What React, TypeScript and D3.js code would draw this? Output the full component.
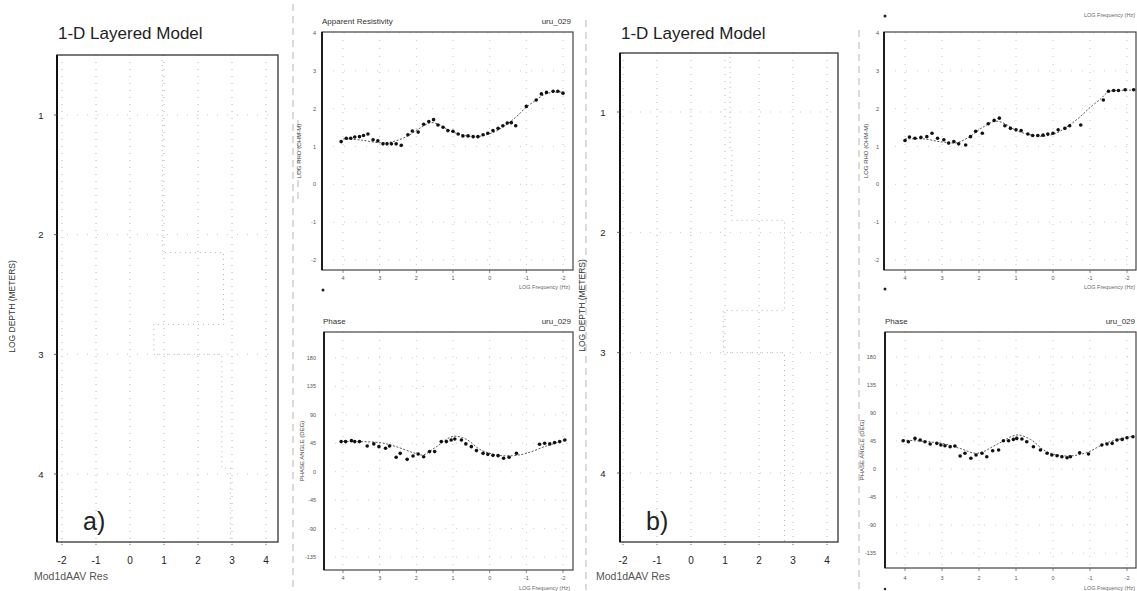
import React from 'react';
import * as d3 from 'd3';

// ---------- tick labels ----------
const MODEL_RES_TICKS = [-2, -1, 0, 1, 2, 3, 4];
const MODEL_DEPTH_TICKS = [1, 2, 3, 4];
const FREQ_TICKS = [4, 3, 2, 1, 0, -1, -2];
const RHO_TICKS = [4, 3, 2, 1, 0, -1, -2];
const PHASE_TICKS = [180, 135, 90, 45, 0, -45, -90, -135];

// ---------- site a : apparent resistivity ----------
const RHO_FREQ_A = [4.05, 3.91, 3.79, 3.68, 3.55, 3.44, 3.32, 3.18, 3.05, 2.91, 2.8, 2.68, 2.55, 2.41, 2.23, 2.11, 1.95, 1.8, 1.66, 1.53, 1.41, 1.27, 1.14, 1.0, 0.86, 0.73, 0.59, 0.45, 0.32, 0.18, 0.05, -0.09, -0.23, -0.36, -0.48, -0.59, -0.71, -1.0, -1.27, -1.41, -1.55, -1.73, -1.86, -2.0];
const RHO_A = [1.13, 1.22, 1.22, 1.25, 1.26, 1.29, 1.33, 1.18, 1.15, 1.07, 1.07, 1.07, 1.07, 1.03, 1.31, 1.41, 1.38, 1.59, 1.66, 1.71, 1.57, 1.51, 1.42, 1.4, 1.33, 1.28, 1.28, 1.26, 1.26, 1.31, 1.35, 1.42, 1.48, 1.55, 1.62, 1.63, 1.55, 2.06, 2.23, 2.39, 2.43, 2.46, 2.46, 2.41];
const RHO_MODEL_FREQ_A = [4.0, 3.5, 3.0, 2.64, 2.27, 1.91, 1.59, 1.36, 1.09, 0.77, 0.36, -0.09, -0.45, -0.73, -1.0, -1.27, -1.5, -1.73, -2.0];
const RHO_MODEL_A = [1.2, 1.17, 1.1, 1.13, 1.26, 1.48, 1.63, 1.57, 1.42, 1.31, 1.26, 1.37, 1.57, 1.79, 2.04, 2.23, 2.38, 2.43, 2.44];

// ---------- site a : phase ----------
const PH_FREQ_A = [4.05, 3.93, 3.77, 3.68, 3.55, 3.34, 3.16, 3.02, 2.84, 2.73, 2.55, 2.44, 2.25, 2.09, 1.95, 1.8, 1.64, 1.5, 1.32, 1.18, 1.05, 0.95, 0.77, 0.65, 0.5, 0.36, 0.18, 0.05, -0.09, -0.23, -0.38, -0.53, -0.73, -1.36, -1.5, -1.64, -1.77, -1.91, -2.05];
const PH_A = [47.7, 47.7, 49.2, 47.7, 47.7, 40.8, 44.0, 39.7, 37.1, 40.8, 22.8, 29.1, 19.6, 24.9, 28.1, 23.8, 31.8, 31.8, 47.7, 47.7, 50.3, 51.9, 50.3, 44.0, 39.7, 33.4, 29.1, 27.5, 25.9, 25.4, 21.2, 22.8, 29.1, 43.4, 45.0, 44.0, 46.1, 47.7, 50.3];
const PH_MODEL_FREQ_A = [4.0, 3.0, 2.55, 2.09, 1.82, 1.45, 1.0, 0.64, 0.27, -0.18, -0.64, -1.0, -1.55, -2.09];
const PH_MODEL_A = [47.7, 46.1, 39.7, 30.2, 26.5, 39.7, 56.0, 51.4, 35.5, 26.5, 25.4, 29.1, 40.8, 50.3];

// ---------- site b : apparent resistivity ----------
const RHO_FREQ_B = [4.0, 3.88, 3.73, 3.57, 3.41, 3.27, 3.12, 2.95, 2.82, 2.68, 2.55, 2.36, 2.23, 2.09, 1.91, 1.75, 1.59, 1.45, 1.3, 1.15, 1.0, 0.86, 0.68, 0.55, 0.41, 0.27, 0.14, 0.0, -0.14, -0.32, -0.45, -0.75, -1.36, -1.5, -1.64, -1.77, -1.95, -2.18];
const RHO_B = [1.16, 1.25, 1.22, 1.24, 1.26, 1.35, 1.22, 1.18, 1.09, 1.13, 1.07, 1.04, 1.26, 1.4, 1.35, 1.6, 1.69, 1.75, 1.55, 1.48, 1.44, 1.42, 1.33, 1.29, 1.29, 1.3, 1.33, 1.35, 1.44, 1.48, 1.55, 1.57, 2.23, 2.46, 2.48, 2.48, 2.5, 2.5];
const RHO_MODEL_FREQ_B = [4.0, 3.5, 3.0, 2.6, 2.27, 1.91, 1.55, 1.3, 1.05, 0.7, 0.3, -0.1, -0.45, -0.75, -1.0, -1.3, -1.5, -1.75, -2.2];
const RHO_MODEL_B = [1.2, 1.2, 1.12, 1.1, 1.25, 1.5, 1.67, 1.6, 1.45, 1.33, 1.27, 1.36, 1.57, 1.8, 2.03, 2.27, 2.45, 2.48, 2.49];

// ---------- site b : phase ----------
const PH_FREQ_B = [4.05, 3.91, 3.73, 3.59, 3.46, 3.32, 3.14, 3.03, 2.92, 2.78, 2.65, 2.51, 2.38, 2.22, 2.08, 1.92, 1.79, 1.63, 1.47, 1.34, 1.2, 1.07, 0.98, 0.84, 0.71, 0.53, 0.34, 0.16, 0.03, -0.11, -0.24, -0.38, -0.47, -0.72, -0.96, -1.32, -1.46, -1.6, -1.73, -1.87, -2.0, -2.16];
const PH_B = [45.5, 43.9, 49.2, 46.5, 43.9, 40.1, 41.2, 38.5, 37.4, 35.8, 36.9, 20.9, 25.2, 17.2, 22.5, 25.2, 19.8, 29.4, 30.5, 45.5, 45.5, 47.6, 49.2, 48.1, 43.9, 35.8, 30.5, 25.2, 22.5, 21.4, 19.8, 18.2, 19.8, 26.2, 24.1, 38.5, 40.1, 41.2, 46.5, 47.6, 50.3, 51.9];
const PH_MODEL_FREQ_B = [4.05, 3.0, 2.51, 2.04, 1.5, 0.98, 0.61, 0.16, -0.38, -0.9, -1.45, -2.1];
const PH_MODEL_B = [46.5, 41.2, 33.0, 25.2, 40.1, 54.6, 47.6, 27.3, 20.9, 26.2, 42.2, 52.0];

// ---------- faint layered model (log res per layer, layer top depths) ----------
const LAYER_TOPS_A = [0.5, 2.15, 2.75, 3.0, 3.95, 4.57];
const LAYER_RES_A = [0.95, 2.75, 0.7, 2.7, 2.95];
const LAYER_TOPS_B = [0.5, 1.3, 1.9, 2.65, 3.0, 4.57];
const LAYER_RES_B = [1.15, 1.2, 2.75, 0.95, 2.75];

const FONT = '"Liberation Sans", Arial, Helvetica, sans-serif';

function stepPath(tops: number[], res: number[], x: any, y: any) {
  const pts: [number, number][] = [];
  res.forEach((v, i) => {
    pts.push([x(v), y(tops[i])]);
    pts.push([x(v), y(tops[i + 1])]);
  });
  return d3.line()(pts) || '';
}

function ModelPanel({ box, xr, yr, label, tops, res, title, titleX, depthLabelX, yTickX, footX }: any) {
  const x = d3.scaleLinear().domain([-2, 4]).range(xr);
  const y = d3.scaleLinear().domain([1, 4]).range(yr);
  const cy = (box.t + box.b) / 2 + 8;
  return (
    <g fontFamily={FONT}>
      <text x={titleX} y={39} fontSize={17} fill="#222">{title}</text>
      {MODEL_RES_TICKS.map((t) => (
        <line key={'gx' + t} x1={x(t)} x2={x(t)} y1={box.t} y2={box.b} stroke="#777" strokeWidth={0.8} strokeDasharray="1,6" opacity={0.7} />
      ))}
      {MODEL_DEPTH_TICKS.map((t) => (
        <line key={'gy' + t} x1={box.l} x2={box.r} y1={y(t)} y2={y(t)} stroke="#888" strokeWidth={0.8} strokeDasharray="1,9" opacity={0.6} />
      ))}
      <path d={stepPath(tops, res, x, y)} fill="none" stroke="#777" strokeWidth={1} strokeDasharray="1,4" opacity={0.55} />
      <rect x={box.l} y={box.t} width={box.r - box.l} height={box.b - box.t} fill="none" stroke="#333" strokeWidth={1.3} />
      <line x1={box.l} x2={box.l} y1={box.t} y2={box.b} stroke="#111" strokeWidth={2} />
      {MODEL_RES_TICKS.map((t) => (
        <g key={'tx' + t}>
          <line x1={x(t)} x2={x(t)} y1={box.b} y2={box.b + 4} stroke="#444" strokeWidth={0.8} strokeDasharray="1,1" />
          <text x={x(t)} y={564} fontSize={10} textAnchor="middle" fill="#222">{t < 0 ? '-' + Math.abs(t) : t}</text>
        </g>
      ))}
      {MODEL_DEPTH_TICKS.map((t) => (
        <g key={'ty' + t}>
          <line x1={box.l - 3} x2={box.l} y1={y(t)} y2={y(t)} stroke="#444" strokeWidth={0.8} />
          <text x={yTickX} y={y(t) + 3.5} fontSize={9.5} textAnchor="middle" fill="#222">{t}</text>
        </g>
      ))}
      <text transform={`translate(${depthLabelX},${cy}) rotate(-90)`} fontSize={8.5} textAnchor="middle" fill="#333">LOG DEPTH (METERS)</text>
      <text x={box.l + 26} y={box.b - 12} fontSize={25} fill="#222">{label}</text>
      <text x={footX} y={580} fontSize={10.5} fill="#555">Mod1dAAV Res</text>
    </g>
  );
}

function Sounding({ box, xr, yDomain, yr, yTicks, fx, fy, mfx, mfy, yLabel, yLabelX, yTickX, tickY }: any) {
  const x = d3.scaleLinear().domain([4, -2]).range(xr);
  const y = d3.scaleLinear().domain(yDomain).range(yr);
  const line = d3.line<number>().x((d, i) => x(mfx[i])).y((d) => y(d)).curve(d3.curveCatmullRom);
  const cy = (box.t + box.b) / 2;
  return (
    <g fontFamily={FONT}>
      {FREQ_TICKS.map((t) => (
        <line key={'gx' + t} x1={x(t)} x2={x(t)} y1={box.t} y2={box.b} stroke="#888" strokeWidth={0.8} strokeDasharray="1,7" opacity={0.6} />
      ))}
      {yTicks.map((t: number) => (
        <line key={'gy' + t} x1={box.l} x2={box.r} y1={y(t)} y2={y(t)} stroke="#999" strokeWidth={0.8} strokeDasharray="1,10" opacity={0.6} />
      ))}
      <rect x={box.l} y={box.t} width={box.r - box.l} height={box.b - box.t} fill="none" stroke="#444" strokeWidth={1.2} />
      <line x1={box.l} x2={box.l} y1={box.t} y2={box.b} stroke="#111" strokeWidth={1.8} />
      {FREQ_TICKS.map((t) => (
        <g key={'tx' + t}>
          <line x1={x(t)} x2={x(t)} y1={box.b} y2={box.b + 3} stroke="#555" strokeWidth={0.7} />
          <text x={x(t)} y={tickY} fontSize={5.5} textAnchor="middle" fill="#555">{t}</text>
        </g>
      ))}
      {yTicks.map((t: number) => (
        <text key={'ty' + t} x={yTickX} y={y(t) + 2} fontSize={5.5} textAnchor="end" fill="#555">{t}</text>
      ))}
      <text transform={`translate(${yLabelX},${cy}) rotate(-90)`} fontSize={6} textAnchor="middle" fill="#444">{yLabel}</text>
      <path d={line(mfy) || ''} fill="none" stroke="#444" strokeWidth={0.9} strokeDasharray="2,1.6" />
      {fx.map((f: number, i: number) => (
        <circle key={i} cx={x(f)} cy={y(fy[i])} r={1.8} fill="#111" />
      ))}
    </g>
  );
}

const SCAN_LINES = [
  { x: 293, y1: 4, y2: 590 },
  { x: 298, y1: 120, y2: 200 },
  { x: 586, y1: 20, y2: 590 },
  { x: 859, y1: 30, y2: 590 },
];

export default function App() {
  const resA = { l: 322, t: 32, r: 573, b: 270 };
  const phA = { l: 324, t: 332, r: 573, b: 570 };
  const resB = { l: 884, t: 32, r: 1136, b: 270 };
  const phB = { l: 885, t: 332, r: 1136, b: 568 };
  return (
    <svg width={1137} height={591} style={{ position: 'absolute', left: 0, top: 0, background: '#fff' }}>
      <rect width={1137} height={591} fill="#fff" />
      {SCAN_LINES.map((s, i) => (
        <line key={i} x1={s.x} x2={s.x} y1={s.y1} y2={s.y2} stroke="#999" strokeWidth={1} strokeDasharray="7,5" opacity={0.7} />
      ))}
      <ModelPanel box={{ l: 57, t: 55, r: 278, b: 542 }} xr={[62, 266]} yr={[115, 474]} label="a)" tops={LAYER_TOPS_A} res={LAYER_RES_A}
        title="1-D Layered Model" titleX={58} depthLabelX={15} yTickX={41} footX={34} />
      <ModelPanel box={{ l: 620, t: 53, r: 838, b: 542 }} xr={[623, 827]} yr={[112, 473]} label="b)" tops={LAYER_TOPS_B} res={LAYER_RES_B}
        title="1-D Layered Model" titleX={621} depthLabelX={585} yTickX={603} footX={596} />

      <Sounding box={resA} xr={[343, 563]} yDomain={[4, -2]} yr={[33, 260]} yTicks={RHO_TICKS} fx={RHO_FREQ_A} fy={RHO_A}
        mfx={RHO_MODEL_FREQ_A} mfy={RHO_MODEL_A} yLabel="LOG RHO (OHM-M)" yLabelX={301} yTickX={316} tickY={280} />
      <Sounding box={phA} xr={[343, 563]} yDomain={[180, -135]} yr={[358, 557]} yTicks={PHASE_TICKS} fx={PH_FREQ_A} fy={PH_A}
        mfx={PH_MODEL_FREQ_A} mfy={PH_MODEL_A} yLabel="PHASE ANGLE (DEG)" yLabelX={304} yTickX={316} tickY={580} />
      <Sounding box={resB} xr={[905, 1127]} yDomain={[4, -2]} yr={[33, 260]} yTicks={RHO_TICKS} fx={RHO_FREQ_B} fy={RHO_B}
        mfx={RHO_MODEL_FREQ_B} mfy={RHO_MODEL_B} yLabel="LOG RHO (OHM-M)" yLabelX={868} yTickX={879} tickY={280} />
      <Sounding box={phB} xr={[905, 1127]} yDomain={[180, -135]} yr={[357, 553]} yTicks={PHASE_TICKS} fx={PH_FREQ_B} fy={PH_B}
        mfx={PH_MODEL_FREQ_B} mfy={PH_MODEL_B} yLabel="PHASE ANGLE (DEG)" yLabelX={864} yTickX={876} tickY={580} />

      <g fontFamily={FONT} fill="#333">
        <text x={322} y={24} fontSize={8}>Apparent Resistivity</text>
        <text x={571} y={24} fontSize={8} textAnchor="end">uru_029</text>
        <text x={323} y={324} fontSize={8}>Phase</text>
        <text x={571} y={324} fontSize={8} textAnchor="end">uru_029</text>
        <text x={885} y={324} fontSize={8}>Phase</text>
        <text x={1135} y={324} fontSize={8} textAnchor="end">uru_029</text>

        <circle cx={323} cy={290} r={1.5} fill="#222" />
        <text x={570} y={289} fontSize={5.5} textAnchor="end" fill="#666">LOG Frequency (Hz)</text>
        <text x={570} y={590} fontSize={5.5} textAnchor="end" fill="#666">LOG Frequency (Hz)</text>

        <circle cx={885} cy={16} r={1.5} fill="#222" />
        <text x={1135} y={17} fontSize={5.5} textAnchor="end" fill="#666">LOG Frequency (Hz)</text>
        <circle cx={885} cy={289} r={1.5} fill="#222" />
        <text x={1135} y={289} fontSize={5.5} textAnchor="end" fill="#666">LOG Frequency (Hz)</text>
        <circle cx={885} cy={589} r={1.2} fill="#222" />
        <text x={1135} y={590} fontSize={5.5} textAnchor="end" fill="#666">LOG Frequency (Hz)</text>
      </g>
    </svg>
  );
}
